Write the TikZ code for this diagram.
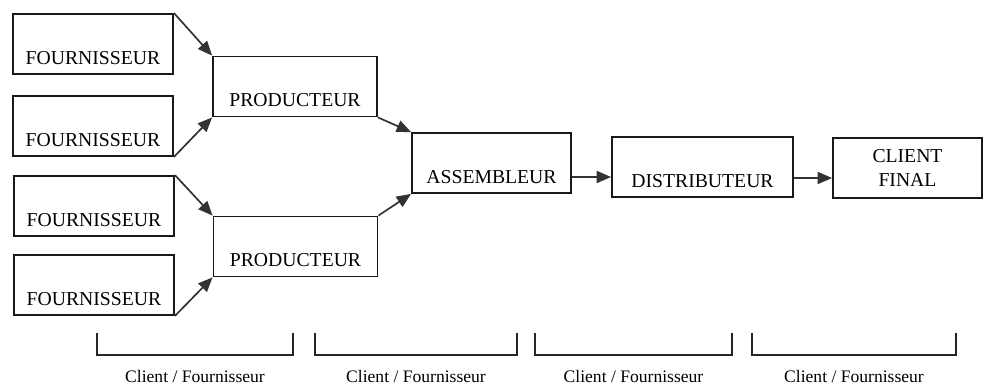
\documentclass[tikz,border=0pt]{standalone}
\usepackage{fontspec}
\setmainfont{Liberation Serif}
\usetikzlibrary{positioning,arrows.meta}
\definecolor{dunkel}{rgb}{0.2,0.2,0.2}

\begin{document}
\begin{tikzpicture}[x=0.025cm,y=-0.025cm]
\useasboundingbox (0,0) rectangle (984,385);

% 1. Stile definieren
\tikzset{
  kasten/.style={
    draw=black!90,
    line width=1.3pt,
    inner sep=0pt,
    minimum height=1.5cm,
    font=\fontsize{14}{17}\selectfont
  },
  tieftext/.style={
    text height=1.25cm,
    text depth=0.25cm
  },
  fluss/.style={
    draw=dunkel,
    line width=1.2pt,
    -{Triangle[length=3.6mm,width=3mm]}
  },
  klammer/.style={
    draw=black!85,
    line width=0.9pt
  }
}

% 2. Knoten
\node [kasten, tieftext, minimum width=4cm] (f1) at (93,44) {FOURNISSEUR};
\node [kasten, tieftext, minimum width=4cm] (f2) at (93,126) {FOURNISSEUR};
\node [kasten, tieftext, minimum width=4cm] (f3) at (94,206) {FOURNISSEUR};
\node [kasten, tieftext, minimum width=4cm] (f4) at (94,285) {FOURNISSEUR};

\node [kasten, tieftext, minimum width=4.1cm] (p1) at (295,86.5) {PRODUCTEUR};
\node [kasten, tieftext, minimum width=4.1cm] (p2) at (295.5,246.5) {PRODUCTEUR};

\node [kasten, tieftext, minimum width=3.975cm] (a) at (491.5,163) {ASSEMBLEUR};
\node [kasten, tieftext, minimum width=4.525cm] (d) at (702.5,167) {DISTRIBUTEUR};
\node [kasten, align=center, minimum width=3.725cm] (c) at (907.5,168) {CLIENT\\FINAL};

% 3. Pfeile
\draw [fluss] (f1.north east) -- (p1.north west);
\draw [fluss] (f2.south east) -- (p1.south west);
\draw [fluss] (f3.north east) -- (p2.north west);
\draw [fluss] (f4.south east) -- (p2.south west);
\draw [fluss] (p1.south east) -- (a.north west);
\draw [fluss] (p2.north east) -- (a.south west);
\draw [fluss] ([yshift=-0.35cm]a.east) -- ([yshift=-0.35cm]a.east -| d.west);
\draw [fluss] ([yshift=-0.275cm]d.east) -- ([yshift=-0.275cm]d.east -| c.west);

% 4. Klammern mit Beschriftung
\foreach \li/\re/\name in {97/293/k1, 315/517/k2, 535/732/k3, 752/956/k4}{
  \draw [klammer] (\li,333) |- (\re,355) -- (\re,333);
  \node [anchor=base, font=\fontsize{12.5}{15}\selectfont] (\name) at ({(\li+\re)/2},382) {Client / Fournisseur};
}

\end{tikzpicture}
\end{document}
